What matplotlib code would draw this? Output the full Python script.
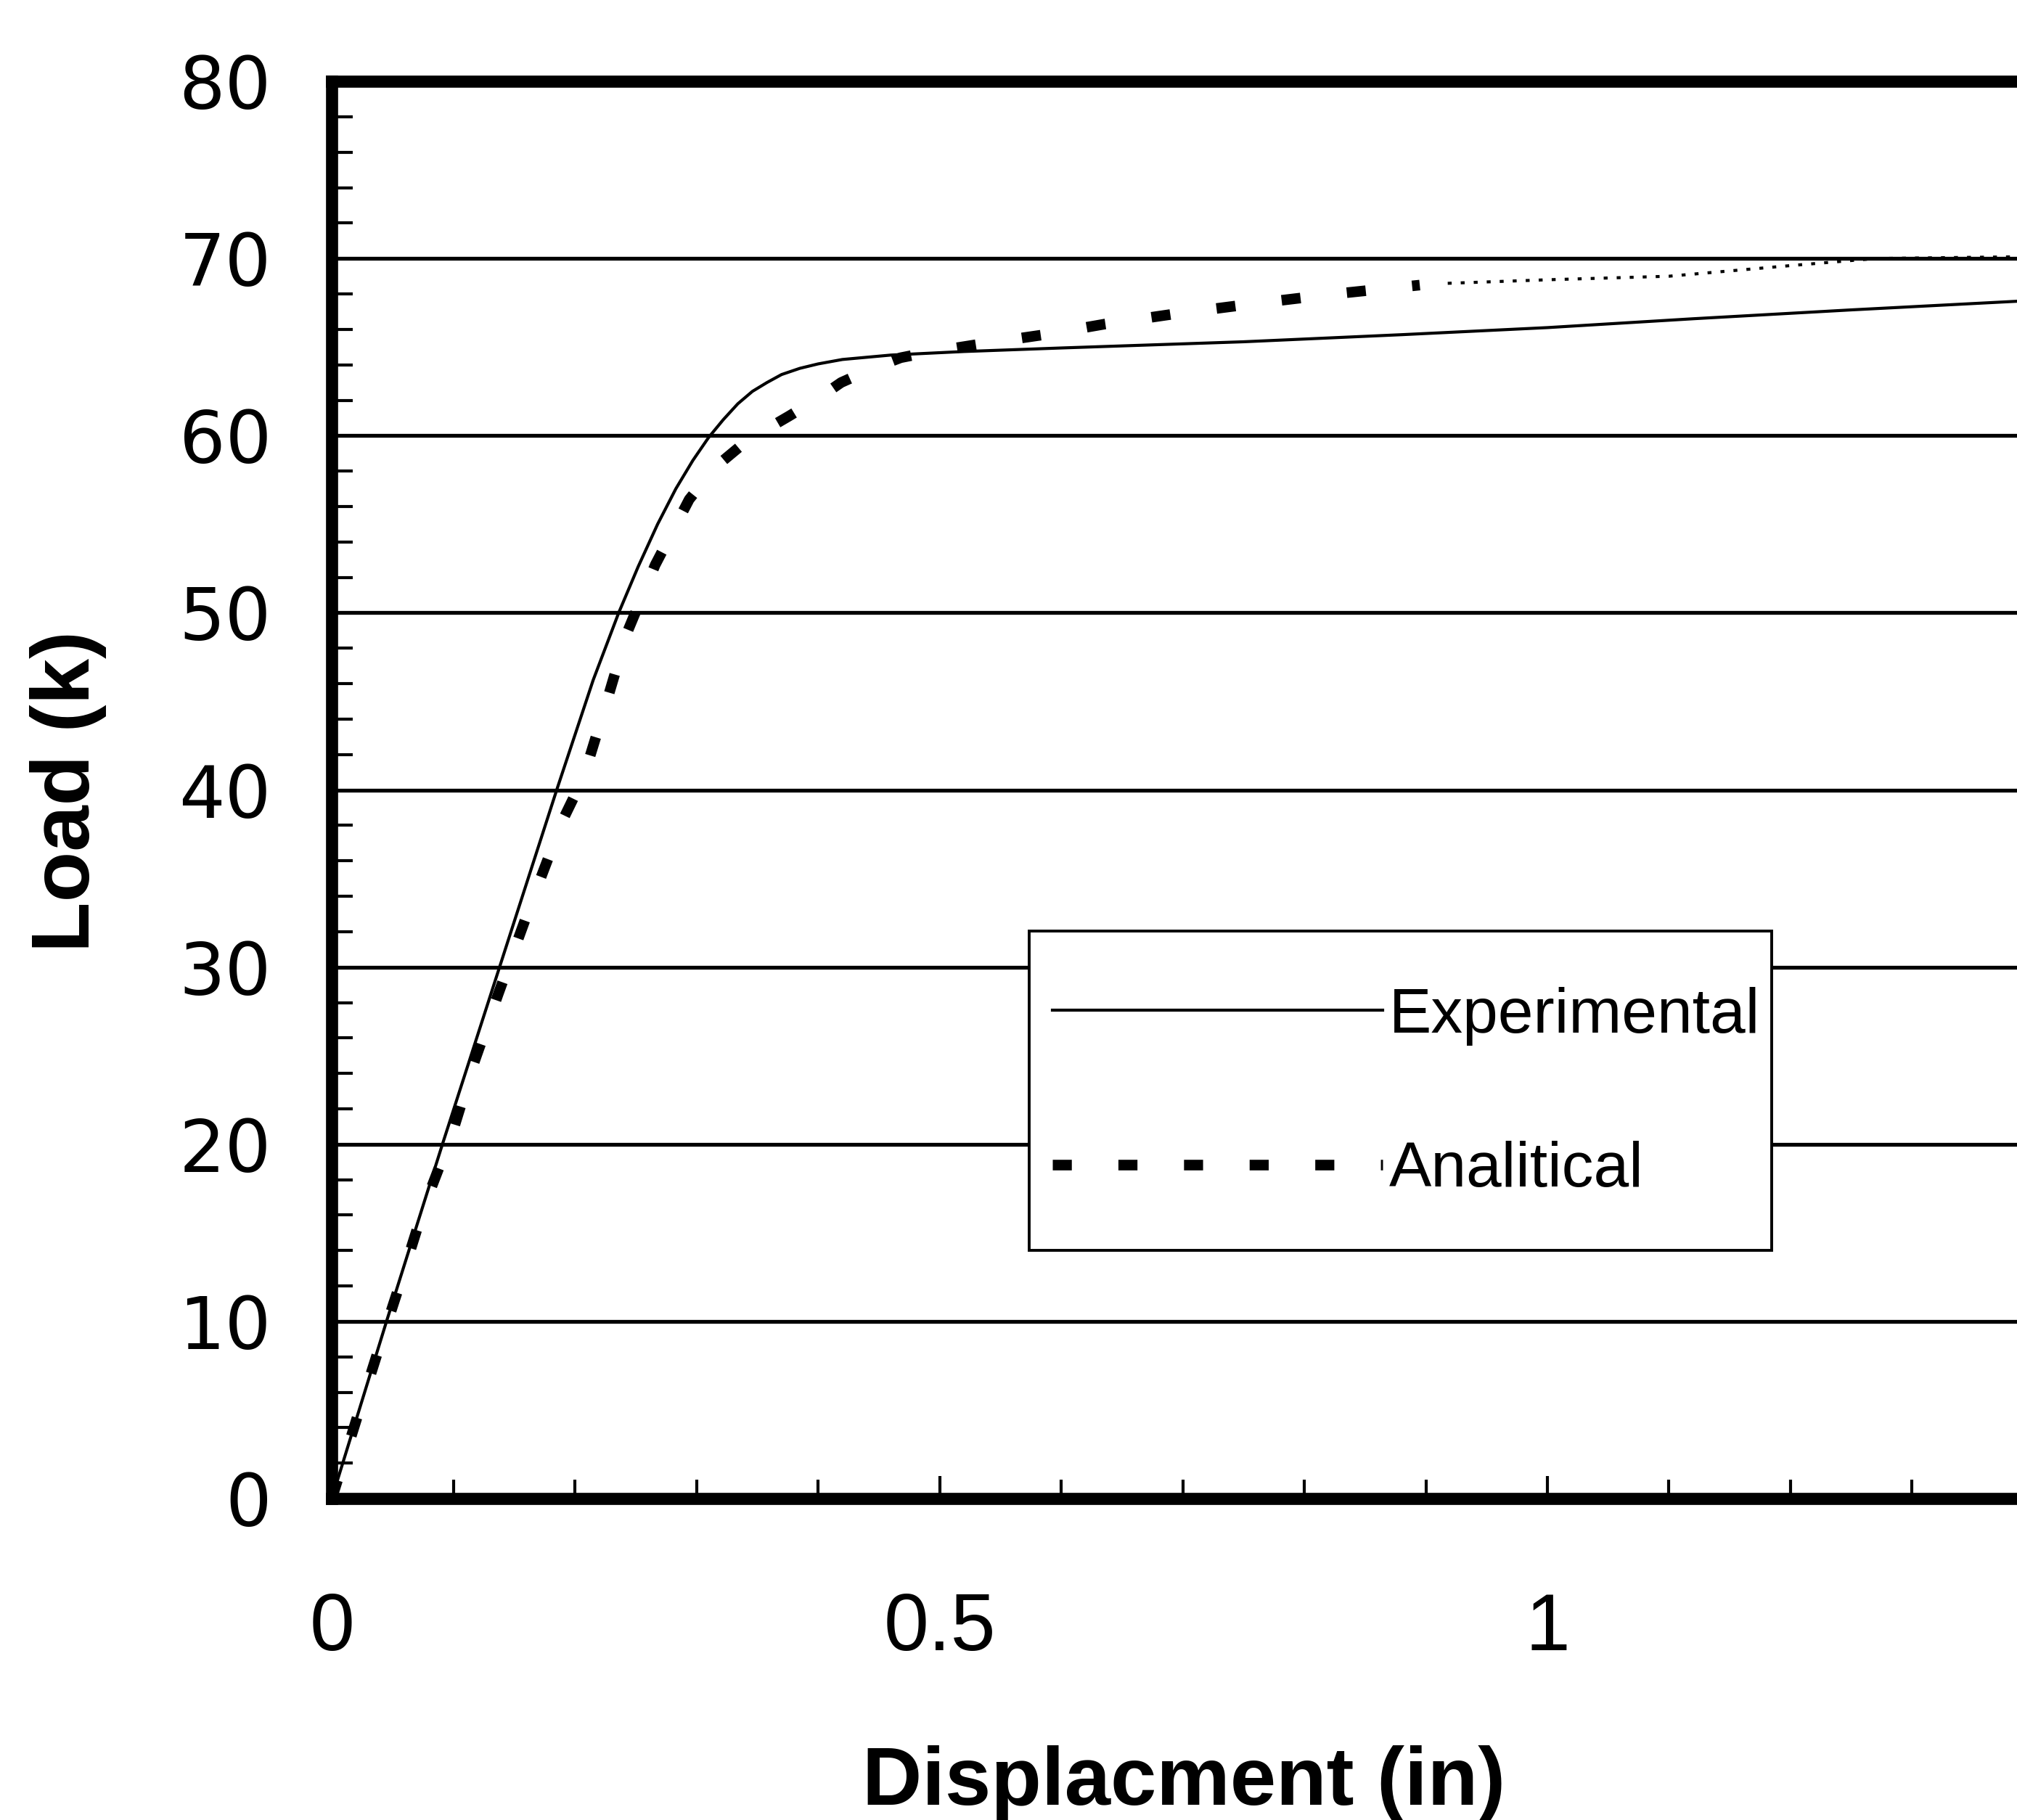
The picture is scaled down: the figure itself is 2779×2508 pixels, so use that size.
import matplotlib
matplotlib.use("Agg")
import matplotlib.pyplot as plt
from matplotlib.patches import Rectangle
from matplotlib.ticker import MultipleLocator

# experimental load-displacement curve (in, kips)
exp_disp = [0.0, 0.045, 0.091, 0.138, 0.185, 0.215, 0.236, 0.252, 0.268, 0.283,
            0.297, 0.31, 0.322, 0.334, 0.346, 0.358, 0.37, 0.385, 0.40, 0.42,
            0.46, 0.52, 0.60, 0.75, 0.88, 1.00, 1.12, 1.25, 1.39]
exp_load = [0.0, 10.0, 20.0, 30.0, 40.0, 46.2, 50.0, 52.6, 55.0, 57.0,
            58.6, 59.9, 60.9, 61.8, 62.5, 63.0, 63.45, 63.8, 64.05, 64.3,
            64.55, 64.75, 64.95, 65.3, 65.7, 66.1, 66.6, 67.1, 67.6]

# analytical curve, thick dashed part
ana_disp = [0.0, 0.02, 0.037, 0.055, 0.076, 0.099, 0.117, 0.137, 0.165, 0.19,
            0.207, 0.224, 0.243, 0.266, 0.294, 0.315, 0.336, 0.356, 0.376, 0.40,
            0.419, 0.445, 0.468, 0.49, 0.536, 0.586, 0.636, 0.696, 0.764, 0.825,
            0.895]
ana_load = [0.0, 4.4, 8.1, 11.9, 16.5, 20.6, 24.6, 28.5, 33.8, 38.3,
            40.7, 44.5, 48.9, 52.7, 56.4, 58.2, 59.4, 60.3, 61.1, 62.1,
            63.0, 63.8, 64.4, 64.7, 65.2, 65.7, 66.3, 66.9, 67.5, 68.0,
            68.5]

# analytical curve, thin dotted tail
tail_disp = [0.918, 1.0, 1.1, 1.2, 1.27, 1.39]
tail_load = [68.6, 68.8, 69.0, 69.6, 70.0, 70.1]

y_ticks = [0, 10, 20, 30, 40, 50, 60, 70, 80]
x_ticks = [0, 0.5, 1]
x_tick_labels = ["0", "0.5", "1"]

fig = plt.figure(figsize=(27.79, 25.08), dpi=100)
ax = fig.add_axes([0.1645, 0.1766, 0.8355, 0.7787])

ax.plot(exp_disp, exp_load, color="black", lw=3.0, label="Experimental", zorder=2)
ax.plot(ana_disp, ana_load, color="black", lw=10.5, dashes=(1.8, 4.4),
        dash_capstyle="butt", label="Analitical", zorder=2)
ax.plot(tail_disp, tail_load, color="black", lw=3.0, dashes=(1.3, 3.0), zorder=2)

ax.set_xlim(0, 1.3863)
ax.set_ylim(0, 80)

ax.set_xticks(x_ticks)
ax.set_xticklabels(x_tick_labels, fontfamily="Liberation Sans", fontsize=80)
ax.set_yticks(y_ticks)
ax.set_yticklabels([str(v) for v in y_ticks], fontfamily="DejaVu Sans", fontsize=72)
ax.xaxis.set_minor_locator(MultipleLocator(0.1))
ax.yaxis.set_minor_locator(MultipleLocator(2))

ax.tick_params(axis="both", which="both", direction="in", color="black")
ax.tick_params(axis="x", which="major", length=22, width=3, pad=92)
ax.tick_params(axis="x", which="minor", length=19, width=3)
ax.tick_params(axis="y", which="major", length=0, pad=60)
ax.tick_params(axis="y", which="minor", length=21, width=3)

ax.set_axisbelow(True)
ax.yaxis.grid(True, which="major", color="black", lw=3.8)

for side in ["left", "top", "bottom"]:
    ax.spines[side].set_linewidth(12)
    ax.spines[side].set_color("black")
ax.spines["right"].set_visible(False)

ax.set_xlabel("Displacment (in)", fontsize=82, fontweight="bold",
              fontfamily="Liberation Sans")
ax.xaxis.set_label_coords(0.5056, -0.174)
ax.xaxis.label.set_va("top")
ax.set_ylabel("Load (k)", fontsize=82, fontweight="bold",
              fontfamily="Liberation Sans")
ax.yaxis.set_label_coords(-0.1335, 0.4992)

# legend box
box = Rectangle((0.4139, 0.1751), 0.8544 - 0.4139, 0.4004 - 0.1751,
                transform=ax.transAxes, facecolor="white", edgecolor="black",
                lw=2.8, zorder=3)
ax.add_patch(box)
leg = ax.legend(loc="upper left", bbox_to_anchor=(0.4276, 0.361), frameon=False,
                borderpad=0, borderaxespad=0, handlelength=5.2, handletextpad=0.1,
                labelspacing=1.5, prop={"family": "Liberation Sans", "size": 63})
leg.set_zorder(5)

fig.savefig("out.png", dpi=100)
